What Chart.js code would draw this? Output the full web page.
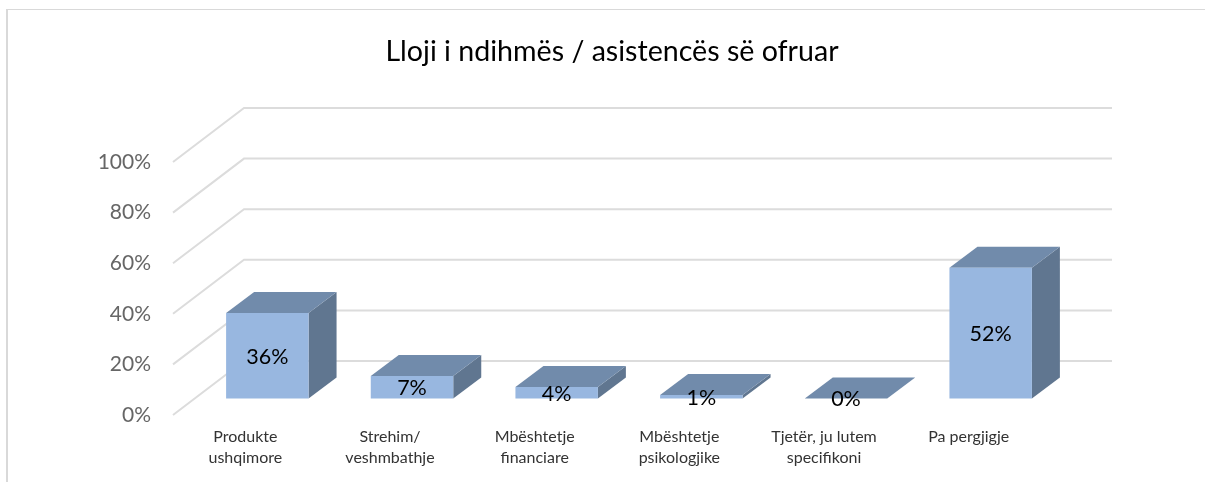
<!DOCTYPE html>
<html>
<head>
<meta charset="utf-8">
<script src="https://cdn.jsdelivr.net/npm/chart.js@4"></script>
<style>
html,body{margin:0;padding:0;width:1205px;height:482px;overflow:hidden;background:#fff}
#frame{position:absolute;left:6px;top:9px;width:1208px;height:472px;border-left:2px solid #d9d9d9;border-top:1px solid #d9d9d9}
canvas{display:block}
</style>
</head>
<body>
<div id="frame"><canvas id="c" width="1208" height="472" style="width:1208px;height:472px"></canvas></div>
<script>
const titleText = "Lloji i ndihmës / asistencës së ofruar";
const categories = [["Produkte","ushqimore"],["Strehim/","veshmbathje"],["Mbështetje","financiare"],["Mbështetje","psikologjike"],["Tjetër, ju lutem","specifikoni"],["Pa pergjigje"]];
// Bar heights as read against the axis; the printed labels differ slightly in the reference.
const barHeights = [33.8, 8.9, 4.5, 1.4, 0, 51.7];
const dataLabels = ["36%", "7%", "4%", "1%", "0%", "52%"];

const FRONT = "#98b7e0", SIDE = "#607690", TOP = "#718bab", GRID = "#dcdcdc";
const WALL = {dx: 71, dy: -54};   // depth of the floor / side wall
const BAR_POS = {dx: 22, dy: -16.5}; // where bars stand on the floor
const BAR_D = {dx: 28, dy: -21};  // depth of each bar

const plugin3d = {
  id: "plugin3d",
  beforeDatasetsDraw(chart) {
    const {ctx, scales: {x, y}, chartArea: a} = chart;
    ctx.save();
    ctx.strokeStyle = GRID; ctx.lineWidth = 2;
    y.ticks.forEach(t => {
      const py = y.getPixelForValue(t.value);
      ctx.beginPath();
      ctx.moveTo(a.left, py);
      ctx.lineTo(a.left + WALL.dx, py + WALL.dy);
      ctx.lineTo(a.right + WALL.dx, py + WALL.dy);
      ctx.stroke();
    });
    ctx.restore();
    ctx.save();
    ctx.translate(BAR_POS.dx, BAR_POS.dy);
    chart.getDatasetMeta(0).data.forEach(b => {
      const l = b.x - b.width / 2, r = b.x + b.width / 2, t = b.y, bs = b.base;
      ctx.fillStyle = SIDE;
      ctx.beginPath();
      ctx.moveTo(r, t); ctx.lineTo(r + BAR_D.dx, t + BAR_D.dy);
      ctx.lineTo(r + BAR_D.dx, bs + BAR_D.dy); ctx.lineTo(r, bs);
      ctx.closePath(); ctx.fill();
      ctx.fillStyle = TOP;
      ctx.beginPath();
      ctx.moveTo(l, t); ctx.lineTo(l + BAR_D.dx, t + BAR_D.dy);
      ctx.lineTo(r + BAR_D.dx, t + BAR_D.dy); ctx.lineTo(r, t);
      ctx.closePath(); ctx.fill();
    });
  },
  afterDatasetsDraw(chart) {
    const {ctx} = chart;
    ctx.restore();
    ctx.save();
    ctx.font = "21.5px Lato, Carlito, sans-serif";
    ctx.fillStyle = "#000";
    ctx.textAlign = "center"; ctx.textBaseline = "middle";
    chart.getDatasetMeta(0).data.forEach((b, i) => {
      ctx.fillText(dataLabels[i], b.x + BAR_POS.dx, (b.y + b.base) / 2 + BAR_POS.dy + 1);
    });
    ctx.restore();
  }
};

new Chart(document.getElementById("c"), {
  type: "bar",
  data: {
    labels: categories,
    datasets: [{
      data: barHeights,
      backgroundColor: FRONT,
      borderWidth: 0,
      categoryPercentage: 1,
      barPercentage: 0.57,
      clip: false
    }]
  },
  options: {
    responsive: false,
    animation: false,
    layout: {padding: 0},
    plugins: {
      legend: {display: false},
      tooltip: {enabled: false},
      title: {
        display: true,
        text: titleText,
        color: "#000",
        font: {family: "Lato, Carlito, sans-serif", size: 28.6, weight: "normal", lineHeight: 1.2},
        padding: {top: 25, bottom: 92.7}
      }
    },
    scales: {
      x: {
        grid: {display: false},
        border: {display: false},
        afterFit(s) { s.height = 67; },
        ticks: {
          color: "#333",
          font: {family: "Lato, Carlito, sans-serif", size: 16, lineHeight: 1.31},
          padding: 3,
          autoSkip: false,
          maxRotation: 0
        }
      },
      y: {
        min: 0, max: 100,
        grid: {display: false},
        border: {display: false},
        afterFit(s) { s.width = 165; },
        ticks: {
          stepSize: 20,
          color: "#666",
          font: {family: "Lato, Carlito, sans-serif", size: 21},
          padding: 14,
          callback: v => v + "%"
        }
      },
      rightSpace: {
        position: "right",
        min: 0, max: 100,
        grid: {display: false},
        border: {display: false},
        ticks: {display: false},
        afterFit(s) { s.width = 175; }
      }
    }
  },
  plugins: [plugin3d]
});
</script>
</body>
</html>
